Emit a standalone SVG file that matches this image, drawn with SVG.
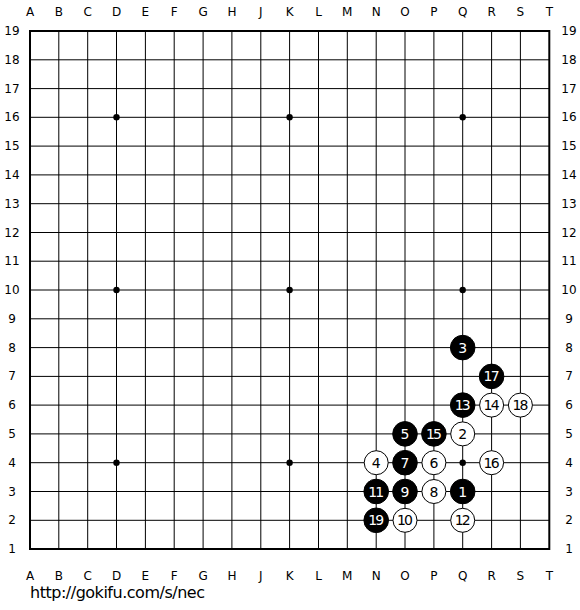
<svg xmlns="http://www.w3.org/2000/svg" width="580" height="610" viewBox="0 0 580 610">
<style>
.g{stroke:#000;stroke-width:1;fill:none}
.b{stroke:#000;stroke-width:2;fill:none}
.lab{font-family:"DejaVu Sans",Verdana,sans-serif;font-size:12px;fill:#000;text-anchor:middle}
.bs{fill:#000;stroke:#000;stroke-width:1}
.ws{fill:#fff;stroke:#000;stroke-width:1}
.bt{font-family:"DejaVu Sans",Verdana,sans-serif;font-size:14px;fill:#fff;text-anchor:middle}
.wt{font-family:"DejaVu Sans",Verdana,sans-serif;font-size:14px;fill:#000;text-anchor:middle}
</style>
<rect width="580" height="610" fill="#fff"/>
<g id="grid">
<path class="g" d="M30 59.8H549M30 88.6H549M30 117.3H549M30 146.1H549M30 174.9H549M30 203.7H549M30 232.5H549M30 261.2H549M30 290H549M30 318.8H549M30 347.6H549M30 376.4H549M30 405.1H549M30 433.9H549M30 462.7H549M30 491.5H549M30 520.3H549"/>
<path class="g" d="M58.8 31V549M87.7 31V549M116.5 31V549M145.4 31V549M174.2 31V549M203.1 31V549M231.9 31V549M260.8 31V549M289.6 31V549M318.5 31V549M347.3 31V549M376.2 31V549M405 31V549M433.9 31V549M462.7 31V549M491.6 31V549M520.4 31V549"/>
<rect class="b" x="30" y="31" width="519.3" height="518"/>
<g fill="#000">
<circle cx="116.5" cy="117.3" r="3.2"/><circle cx="289.6" cy="117.3" r="3.2"/><circle cx="462.7" cy="117.3" r="3.2"/>
<circle cx="116.5" cy="290" r="3.2"/><circle cx="289.6" cy="290" r="3.2"/><circle cx="462.7" cy="290" r="3.2"/>
<circle cx="116.5" cy="462.7" r="3.2"/><circle cx="289.6" cy="462.7" r="3.2"/><circle cx="462.7" cy="462.7" r="3.2"/>
</g>
</g>
<g id="labels" class="lab">
<text x="30" y="16">A</text><text x="58.8" y="16">B</text><text x="87.7" y="16">C</text><text x="116.5" y="16">D</text><text x="145.4" y="16">E</text><text x="174.2" y="16">F</text><text x="203.1" y="16">G</text><text x="231.9" y="16">H</text><text x="260.8" y="16">J</text><text x="289.6" y="16">K</text><text x="318.5" y="16">L</text><text x="347.3" y="16">M</text><text x="376.2" y="16">N</text><text x="405" y="16">O</text><text x="433.9" y="16">P</text><text x="462.7" y="16">Q</text><text x="491.6" y="16">R</text><text x="520.4" y="16">S</text><text x="549.3" y="16">T</text>
<text x="30" y="580">A</text><text x="58.8" y="580">B</text><text x="87.7" y="580">C</text><text x="116.5" y="580">D</text><text x="145.4" y="580">E</text><text x="174.2" y="580">F</text><text x="203.1" y="580">G</text><text x="231.9" y="580">H</text><text x="260.8" y="580">J</text><text x="289.6" y="580">K</text><text x="318.5" y="580">L</text><text x="347.3" y="580">M</text><text x="376.2" y="580">N</text><text x="405" y="580">O</text><text x="433.9" y="580">P</text><text x="462.7" y="580">Q</text><text x="491.6" y="580">R</text><text x="520.4" y="580">S</text><text x="549.3" y="580">T</text>
<g>
<text x="12" y="35">19</text><text x="12" y="63.8">18</text><text x="12" y="92.6">17</text><text x="12" y="121.3">16</text><text x="12" y="150.1">15</text><text x="12" y="178.9">14</text><text x="12" y="207.7">13</text><text x="12" y="236.5">12</text><text x="12" y="265.2">11</text><text x="12" y="294">10</text><text x="12" y="322.8">9</text><text x="12" y="351.6">8</text><text x="12" y="380.4">7</text><text x="12" y="409.1">6</text><text x="12" y="437.9">5</text><text x="12" y="466.7">4</text><text x="12" y="495.5">3</text><text x="12" y="524.3">2</text><text x="12" y="553">1</text>
<text x="569" y="35">19</text><text x="569" y="63.8">18</text><text x="569" y="92.6">17</text><text x="569" y="121.3">16</text><text x="569" y="150.1">15</text><text x="569" y="178.9">14</text><text x="569" y="207.7">13</text><text x="569" y="236.5">12</text><text x="569" y="265.2">11</text><text x="569" y="294">10</text><text x="569" y="322.8">9</text><text x="569" y="351.6">8</text><text x="569" y="380.4">7</text><text x="569" y="409.1">6</text><text x="569" y="437.9">5</text><text x="569" y="466.7">4</text><text x="569" y="495.5">3</text><text x="569" y="524.3">2</text><text x="569" y="553">1</text>
</g>
</g>
<g id="s1"><circle class="bs" cx="462.7" cy="491.5" r="12.3"/><text class="bt" x="462.7" y="496.5">1</text></g>
<g id="s2"><circle class="ws" cx="462.7" cy="433.9" r="12"/><text class="wt" x="462.7" y="438.9">2</text></g>
<g id="s3"><circle class="bs" cx="462.7" cy="347.6" r="12.3"/><text class="bt" x="462.7" y="352.6">3</text></g>
<g id="s4"><circle class="ws" cx="376.2" cy="462.7" r="12"/><text class="wt" x="376.2" y="467.7">4</text></g>
<g id="s5"><circle class="bs" cx="405" cy="433.9" r="12.3"/><text class="bt" x="405" y="438.9">5</text></g>
<g id="s6"><circle class="ws" cx="433.9" cy="462.7" r="12"/><text class="wt" x="433.9" y="467.7">6</text></g>
<g id="s7"><circle class="bs" cx="405" cy="462.7" r="12.3"/><text class="bt" x="405" y="467.7">7</text></g>
<g id="s8"><circle class="ws" cx="433.9" cy="491.5" r="12"/><text class="wt" x="433.9" y="496.5">8</text></g>
<g id="s9"><circle class="bs" cx="405" cy="491.5" r="12.3"/><text class="bt" x="405" y="496.5">9</text></g>
<g id="s10"><circle class="ws" cx="405" cy="520.3" r="12"/><text class="wt" x="405" y="525.3" textLength="16">10</text></g>
<g id="s11"><circle class="bs" cx="376.2" cy="491.5" r="12.3"/><text class="bt" x="376.2" y="496.5" textLength="16">11</text></g>
<g id="s12"><circle class="ws" cx="462.7" cy="520.3" r="12"/><text class="wt" x="462.7" y="525.3" textLength="16">12</text></g>
<g id="s13"><circle class="bs" cx="462.7" cy="405.1" r="12.3"/><text class="bt" x="462.7" y="410.1" textLength="16">13</text></g>
<g id="s14"><circle class="ws" cx="491.6" cy="405.1" r="12"/><text class="wt" x="491.6" y="410.1" textLength="16">14</text></g>
<g id="s15"><circle class="bs" cx="433.9" cy="433.9" r="12.3"/><text class="bt" x="433.9" y="438.9" textLength="16">15</text></g>
<g id="s16"><circle class="ws" cx="491.6" cy="462.7" r="12"/><text class="wt" x="491.6" y="467.7" textLength="16">16</text></g>
<g id="s17"><circle class="bs" cx="491.6" cy="376.4" r="12.3"/><text class="bt" x="491.6" y="381.4" textLength="16">17</text></g>
<g id="s18"><circle class="ws" cx="520.4" cy="405.1" r="12"/><text class="wt" x="520.4" y="410.1" textLength="16">18</text></g>
<g id="s19"><circle class="bs" cx="376.2" cy="520.3" r="12.3"/><text class="bt" x="376.2" y="525.3" textLength="16">19</text></g>
<text x="30" y="598" font-family="'DejaVu Sans',Verdana,sans-serif" font-size="16" fill="#000" textLength="175">http://gokifu.com/s/nec</text>
</svg>
